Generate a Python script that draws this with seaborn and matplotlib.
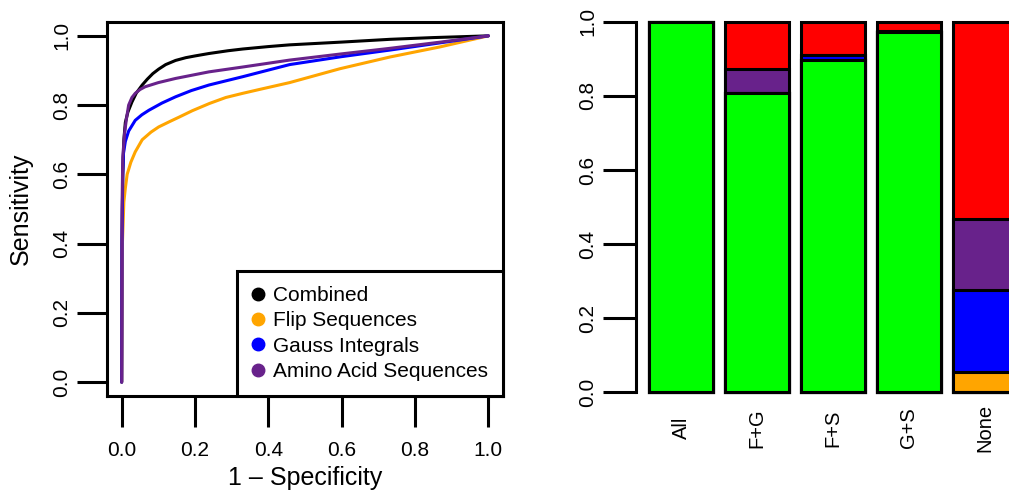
import numpy as np
import pandas as pd
import matplotlib
matplotlib.use("Agg")
import matplotlib.pyplot as plt
import seaborn as sns
from matplotlib.lines import Line2D

# ---------------- ROC data ----------------
comb_fpr = [0.0, 0.001, 0.003, 0.006, 0.010, 0.017, 0.028, 0.040, 0.056, 0.070, 0.085, 0.101, 0.120, 0.147, 0.175, 0.200, 0.238, 0.290, 0.330, 0.400, 0.458, 0.600, 0.732, 0.850, 1.0]
comb_tpr = [0.0, 0.400, 0.600, 0.700, 0.750, 0.780, 0.809, 0.835, 0.858, 0.875, 0.891, 0.904, 0.917, 0.929, 0.937, 0.942, 0.949, 0.957, 0.962, 0.969, 0.974, 0.982, 0.990, 0.995, 1.0]

flip_fpr = [0.0, 0.002, 0.006, 0.010, 0.015, 0.025, 0.037, 0.056, 0.080, 0.101, 0.130, 0.156, 0.193, 0.240, 0.284, 0.330, 0.375, 0.458, 0.530, 0.595, 0.732, 0.868, 1.0]
flip_tpr = [0.0, 0.400, 0.520, 0.560, 0.600, 0.635, 0.665, 0.700, 0.722, 0.737, 0.752, 0.765, 0.784, 0.805, 0.822, 0.834, 0.845, 0.865, 0.886, 0.905, 0.939, 0.968, 1.0]

gauss_fpr = [0.0, 0.001, 0.003, 0.005, 0.010, 0.019, 0.037, 0.055, 0.074, 0.110, 0.147, 0.190, 0.238, 0.330, 0.458, 0.600, 0.732, 0.870, 1.0]
gauss_tpr = [0.0, 0.400, 0.600, 0.661, 0.695, 0.725, 0.756, 0.772, 0.785, 0.806, 0.824, 0.842, 0.858, 0.882, 0.917, 0.940, 0.959, 0.980, 1.0]

amino_fpr = [0.0, 0.001, 0.003, 0.008, 0.013, 0.019, 0.028, 0.037, 0.050, 0.064, 0.100, 0.147, 0.238, 0.330, 0.458, 0.600, 0.732, 0.870, 1.0]
amino_tpr = [0.0, 0.500, 0.650, 0.720, 0.760, 0.800, 0.822, 0.834, 0.845, 0.853, 0.865, 0.877, 0.896, 0.910, 0.930, 0.948, 0.964, 0.982, 1.0]

legend_labels = ["Combined", "Flip Sequences", "Gauss Integrals", "Amino Acid Sequences"]
roc_colors = ["black", "#FFA500", "#0000FF", "#68228B"]

# ---------------- stacked bar data ----------------
categories = ["All", "F+G", "F+S", "G+S", "None"]
green_vals  = [1.000, 0.807, 0.897, 0.972, 0.000]
orange_vals = [0.000, 0.000, 0.000, 0.000, 0.056]
blue_vals   = [0.000, 0.000, 0.013, 0.000, 0.220]
purple_vals = [0.000, 0.065, 0.000, 0.003, 0.191]
red_vals    = [0.000, 0.128, 0.090, 0.025, 0.533]

xticks_roc = [0.0, 0.2, 0.4, 0.6, 0.8, 1.0]
yticks = [0.0, 0.2, 0.4, 0.6, 0.8, 1.0]

sns.set_style("white")
plt.rcParams["font.family"] = ["Liberation Sans", "DejaVu Sans"]
for k in ["text.color", "axes.labelcolor", "xtick.color", "ytick.color", "axes.edgecolor"]:
    plt.rcParams[k] = "black"

W, H = 1009, 493
fig = plt.figure(figsize=(W / 100, H / 100), dpi=100)

def rect(l, t, r, b):
    return [l / W, 1 - b / H, (r - l) / W, (b - t) / H]

# ---------------- left: ROC ----------------
ax1 = fig.add_axes(rect(107, 22, 503, 396))
for fpr, tpr, c in [(comb_fpr, comb_tpr, roc_colors[0]),
                    (flip_fpr, flip_tpr, roc_colors[1]),
                    (gauss_fpr, gauss_tpr, roc_colors[2]),
                    (amino_fpr, amino_tpr, roc_colors[3])]:
    sns.lineplot(x=fpr, y=tpr, sort=False, estimator=None, color=c, lw=2.2, ax=ax1)
ax1.set_xlim(-0.04, 1.04)
ax1.set_ylim(-0.04, 1.04)
for s in ax1.spines.values():
    s.set_visible(True)
    s.set_linewidth(2.2)
    s.set_color("black")
ax1.set_xticks(xticks_roc)
ax1.set_xticklabels([f"{v:.1f}" for v in xticks_roc])
ax1.set_yticks(yticks)
ax1.set_yticklabels([f"{v:.1f}" for v in yticks])
ax1.tick_params(axis="x", direction="out", length=22.5, width=2.2, pad=10, labelsize=15, bottom=True)
ax1.tick_params(axis="y", direction="out", length=21.5, width=2.2, pad=4, labelsize=15, left=True, labelrotation=90)
for t in ax1.get_yticklabels():
    t.set_va("center")
ax1.set_xlabel("1 \u2013 Specificity", fontsize=18)
ax1.set_ylabel("Sensitivity", fontsize=18)
ax1.xaxis.set_label_coords(0.5, (15 - 97) / 374)
ax1.xaxis.label.set_va("center")
ax1.yaxis.set_label_coords((21 - 107) / 396, 0.5)
ax1.yaxis.label.set_va("center")

handles = [Line2D([0], [0], marker="o", color=c, linestyle="none", markersize=9) for c in roc_colors]
leg = ax1.legend(handles, legend_labels, loc="lower right", borderaxespad=0, frameon=True,
                 fancybox=False, edgecolor="black", fontsize=15, handletextpad=0.45,
                 labelspacing=0.3, borderpad=0.72, handlelength=0.55)
leg.get_frame().set_linewidth(2.2)
leg.get_frame().set_alpha(1)

# ---------------- right: stacked bars ----------------
ax2 = fig.add_axes(rect(636, 18, 1009, 396))
layers = [green_vals, orange_vals, blue_vals, purple_vals, red_vals]
layer_colors = ["#00FF00", "#FFA500", "#0000FF", "#68228B", "#FF0000"]
cums = np.cumsum(np.array(layers), axis=0)
for i in range(len(layers) - 1, -1, -1):
    sns.barplot(x=categories, y=cums[i], color=layer_colors[i], saturation=1, width=0.842,
                edgecolor="black", linewidth=2.2, errorbar=None, ax=ax2)
ax2.set_xlim(-0.592, 4.316)
ax2.set_ylim(-0.01, 1.01)
for side in ["top", "right", "bottom"]:
    ax2.spines[side].set_visible(False)
ax2.spines["left"].set_linewidth(2.2)
ax2.spines["left"].set_bounds(0, 1)
ax2.set_yticks(yticks)
ax2.set_yticklabels([f"{v:.1f}" for v in yticks])
ax2.tick_params(axis="y", direction="out", length=23.5, width=2.2, pad=4.3, labelsize=15, left=True, labelrotation=90)
for t in ax2.get_yticklabels():
    t.set_va("center")
ax2.tick_params(axis="x", length=0, pad=23, labelsize=14.5)
for t in ax2.get_xticklabels():
    t.set_rotation(90)
    t.set_va("center")
ax2.set_xlabel("")
ax2.set_ylabel("")

fig.savefig("out.png", dpi=100)
